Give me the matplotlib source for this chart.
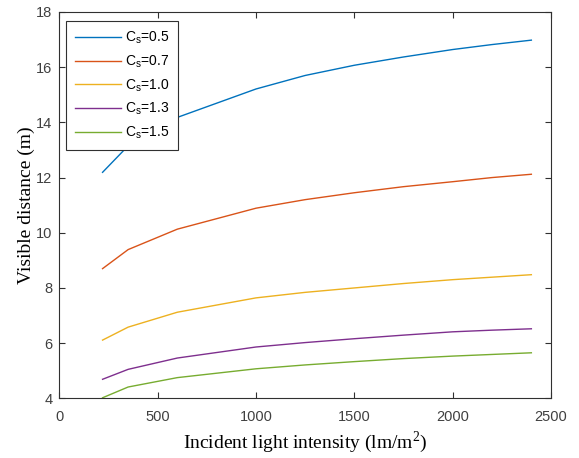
import numpy as np
import matplotlib.pyplot as plt

# incident light intensity (lm/m^2)
intensity = [220, 350, 600, 1000, 1250, 1500, 1750, 2000, 2200, 2400]

# visible distance (m) for each Cs
cs_labels = ['0.5', '0.7', '1.0', '1.3', '1.5']
dist_05 = [12.19, 13.15, 14.18, 15.21, 15.70, 16.07, 16.37, 16.64, 16.82, 16.98]
dist_07 = [8.70, 9.39, 10.13, 10.89, 11.20, 11.45, 11.67, 11.85, 12.00, 12.12]
dist_10 = [6.11, 6.58, 7.12, 7.64, 7.84, 8.00, 8.16, 8.30, 8.39, 8.48]
dist_13 = [4.69, 5.05, 5.46, 5.86, 6.02, 6.16, 6.29, 6.41, 6.47, 6.52]
dist_15 = [4.02, 4.41, 4.75, 5.07, 5.21, 5.33, 5.44, 5.53, 5.59, 5.65]
all_dist = [dist_05, dist_07, dist_10, dist_13, dist_15]

# matlab default colour order
colors = ['#0072BD', '#D95319', '#EDB120', '#7E2F8E', '#77AC30']

plt.rcParams['font.family'] = 'Liberation Sans'
axis_gray = '#303030'

fig = plt.figure(figsize=(5.79, 4.58), dpi=100)
ax = fig.add_axes([0.1024, 0.1303, 0.8493, 0.8435])

for dist, lab, c in zip(all_dist, cs_labels, colors):
    ax.plot(intensity, dist, color=c, linewidth=1.0,
            label=r'$\mathregular{C_s}$=' + lab)

ax.set_xlim(0, 2500)
ax.set_ylim(4, 18)
ax.set_xticks(np.arange(0, 2501, 500))
ax.set_yticks(np.arange(4, 19, 2))
ax.tick_params(direction='in', length=4, width=0.8, labelsize=10.5,
               colors=axis_gray, labelcolor='#404040', top=True, right=True)
ax.tick_params(axis='x', pad=8.5)
ax.tick_params(axis='y', pad=5)
for s in ax.spines.values():
    s.set_color(axis_gray)
    s.set_linewidth(0.8)

ax.set_xlabel('Incident light intensity (lm/m$^\\mathregular{2}$)',
              family='Liberation Serif', fontsize=14, color='black', labelpad=4)
ax.set_ylabel('Visible distance (m)', family='Liberation Serif',
              fontsize=14, color='black', labelpad=1)

leg = ax.legend(loc='upper left', bbox_to_anchor=(0.0136, 0.977),
                borderaxespad=0, fontsize=10, handlelength=3.3,
                labelspacing=0.52, borderpad=0.65, fancybox=False,
                framealpha=1, edgecolor=axis_gray, handletextpad=0.3)
leg.get_frame().set_linewidth(0.8)

fig.savefig('out.png', dpi=100)
